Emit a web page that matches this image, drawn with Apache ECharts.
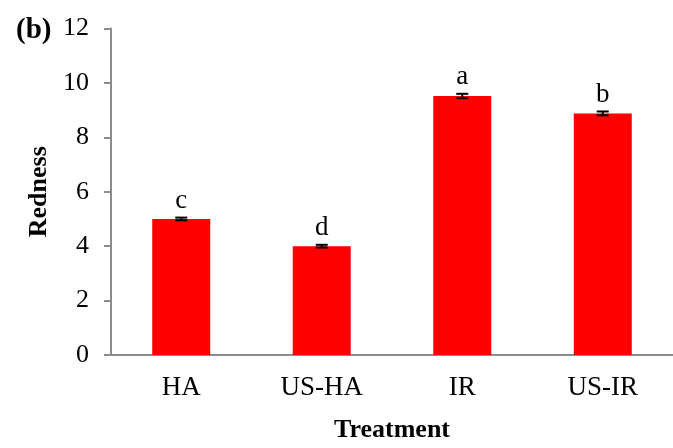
<!DOCTYPE html>
<html>
<head>
<meta charset="utf-8">
<script src="https://cdn.jsdelivr.net/npm/echarts@6/dist/echarts.min.js"></script>
<style>html,body{margin:0;padding:0;background:#fff;}#c{width:673px;height:448px;}</style>
</head>
<body>
<div id="c"></div>
<script>
var categories = ['HA', 'US-HA', 'IR', 'US-IR'];
var redness = [5.0, 4.0, 9.52, 8.88];
var errors = [0.05, 0.05, 0.08, 0.07];
var letters = ['c', 'd', 'a', 'b'];
var yTicks = { min: 0, max: 12, interval: 2 };

var FONT = 'Liberation Serif';
var errData = categories.map(function (c, i) {
  return [i, redness[i] + errors[i], redness[i] - errors[i]];
});

var chart = echarts.init(document.getElementById('c'), null, { renderer: 'canvas' });
chart.setOption({
  animation: false,
  backgroundColor: '#fff',
  title: {
    text: '(b)', left: 11, top: 11,
    textStyle: { fontFamily: FONT, fontSize: 29, fontWeight: 'bold', color: '#000' }
  },
  grid: { left: 111, width: 576, top: 28.5, bottom: 88.5, containLabel: false },
  xAxis: {
    type: 'category',
    data: categories,
    name: 'Treatment',
    nameLocation: 'middle',
    nameGap: 62,
    nameTextStyle: { fontFamily: FONT, fontSize: 26, fontWeight: 'bold', color: '#000' },
    axisLine: { lineStyle: { color: '#8c8c8c', width: 2 } },
    axisTick: { show: false },
    axisLabel: { fontFamily: FONT, fontSize: 27, color: '#000', margin: 19 }
  },
  yAxis: {
    type: 'value',
    min: yTicks.min, max: yTicks.max, interval: yTicks.interval,
    name: 'Redness',
    nameLocation: 'middle',
    nameGap: 53,
    nameTextStyle: { fontFamily: FONT, fontSize: 26, fontWeight: 'bold', color: '#000' },
    axisLine: { show: true, lineStyle: { color: '#8c8c8c', width: 2 } },
    axisTick: { show: true, length: 7, lineStyle: { color: '#8c8c8c', width: 2 } },
    splitLine: { show: false },
    axisLabel: { fontFamily: FONT, fontSize: 26, color: '#000', margin: 22 }
  },
  series: [
    {
      type: 'bar',
      data: redness,
      barWidth: 58,
      itemStyle: { color: '#ff0000' }
    },
    {
      type: 'custom',
      data: errData,
      z: 10,
      renderItem: function (params, api) {
        var i = api.value(0);
        var hi = api.coord([i, api.value(1)]);
        var lo = api.coord([i, api.value(2)]);
        var hw = 6;
        var st = { stroke: '#000', lineWidth: 2 };
        return {
          type: 'group',
          children: [
            { type: 'line', shape: { x1: hi[0], y1: hi[1], x2: lo[0], y2: lo[1] }, style: st },
            { type: 'line', shape: { x1: hi[0] - hw, y1: hi[1], x2: hi[0] + hw, y2: hi[1] }, style: st },
            { type: 'line', shape: { x1: lo[0] - hw, y1: lo[1], x2: lo[0] + hw, y2: lo[1] }, style: st },
            { type: 'text', style: {
                text: letters[i], x: hi[0], y: hi[1] - 3,
                align: 'center', verticalAlign: 'bottom',
                font: '27px "' + FONT + '"', fill: '#000'
              } }
          ]
        };
      }
    }
  ]
});
</script>
</body>
</html>
